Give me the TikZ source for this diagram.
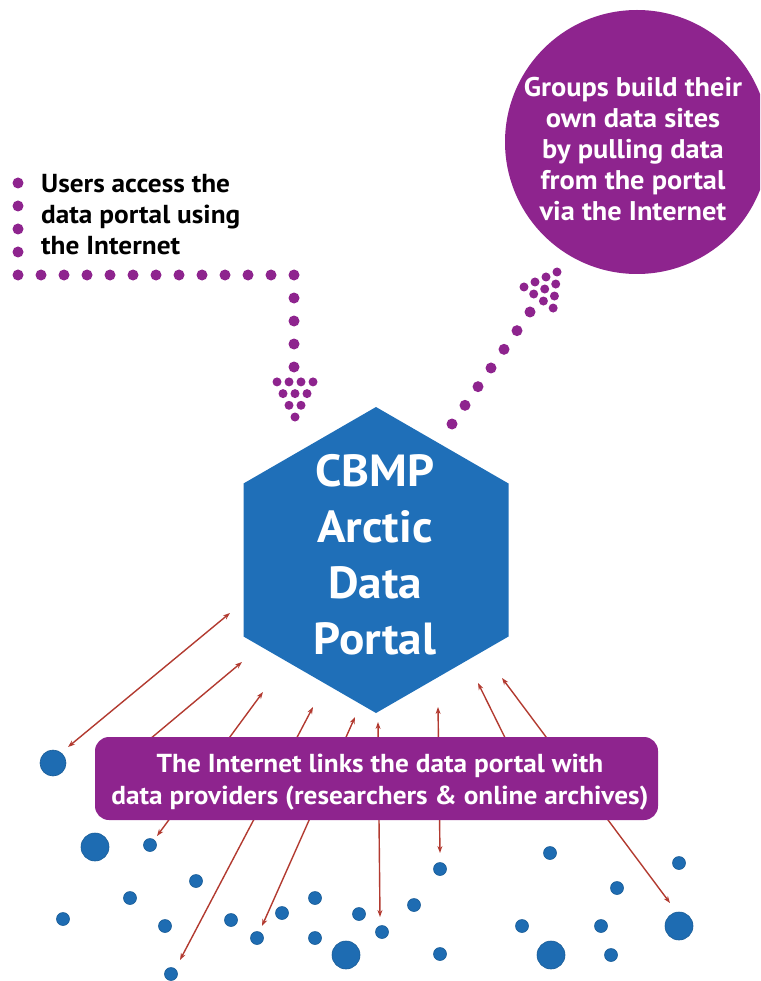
\documentclass[tikz,border=0pt]{standalone}
\usepackage{fontspec}
\setmainfont{PT Sans}[FakeStretch=1.05]
\usetikzlibrary{arrows.meta}
\definecolor{hexblue}{RGB}{31,111,184}
\definecolor{dotblue}{RGB}{30,108,178}
\definecolor{purp}{RGB}{142,36,142}
\definecolor{arrred}{RGB}{178,58,48}
\begin{document}
\begin{tikzpicture}[x=1pt,y=-1pt,
  bdot/.style={circle,fill=dotblue,draw=dotblue!85!black,line width=0.6pt,inner sep=0pt},
  link/.style={draw=arrred,line width=1.4pt,{Stealth[length=7pt,width=5pt]}-{Stealth[length=7pt,width=5pt]}},
  whitetext/.style={text=white,font=\bfseries,align=center,inner sep=0pt},
]
\useasboundingbox (0,0) rectangle (760,981);
\begin{scope}
\clip (0,0) rectangle (760,981);
% purple circle
\node[circle,fill=purp,minimum size=264pt,inner sep=0pt] (groups) at (637,142) {};
\end{scope}
\node[whitetext,anchor=north,font=\bfseries\fontsize{27}{31}\selectfont] (groupstext) at (633,77)
  {Groups build their\\own data sites\\by pulling data\\from the portal\\via the Internet};

% users text
\node[anchor=north west,align=left,inner sep=0pt,font=\bfseries\fontsize{26}{31}\selectfont] (users) at (41,174)
  {Users access the\\data portal using\\the Internet};

% dotted path from users
\foreach \y in {183,206,229,252} \fill[purp] (18,\y) circle[radius=5.5pt];
\foreach \k in {0,...,12} \fill[purp] ({18+23*\k},275) circle[radius=5.5pt];
\foreach \y in {298,321,344,367} \fill[purp] (294,\y) circle[radius=5.5pt];
\foreach \k in {0,...,3} \foreach \j in {0,...,\k}
  \fill[purp] ({295+12*(\j-\k/2)},{417-11.7*\k}) circle[radius=4.5pt];

% diagonal dotted path
\foreach \i in {0,...,6} \fill[purp] ({452+13*\i},{424-18.67*\i}) circle[radius=5.5pt];
\foreach \k in {0,...,3} \foreach \j in {0,...,\k}
  \fill[purp] ({557-10.5*\k*0.585+12*(\j-\k/2)*0.81},{272+10.5*\k*0.81+12*(\j-\k/2)*0.585}) circle[radius=4.5pt];

% hexagon
\fill[hexblue] (376,407) -- (508.5,483.5) -- (508.5,636.5) -- (376,713) -- (243.5,636.5) -- (243.5,483.5) -- cycle;
\node[whitetext,anchor=north,font=\bfseries\fontsize{45}{56}\selectfont] (portal) at (375,454)
  {CBMP\\Arctic\\Data\\Portal};

% blue circles
\foreach \n/\x/\y/\d in {1/53/763/26, 2/95/847/28, 3/150/845/13, 4/196/881/13, 5/130/898/13,
  6/63/919/13, 7/165/926/13, 8/231/920/13, 9/282/913/13, 10/315/898/13, 11/257/938/13,
  12/315/938/13, 13/359/914/13, 14/346/955/28, 15/171/974/13, 16/382/932/13, 17/414/905/13,
  18/440/869/13, 19/440/954/13, 20/550/853/13, 21/522/926/13, 22/551/955/28, 23/617/888/13,
  24/679/863/13, 25/601/926/13, 26/611/955/13, 27/679/926/28}
  \node[bdot,minimum size=\d pt] (p\n) at (\x,\y) {};

% connector end points
\coordinate (a1t) at (230,613); \coordinate (a1b) at (68,747);
\coordinate (a2t) at (242,662); \coordinate (a2b) at (125,760);
\coordinate (a3t) at (263,692); \coordinate (a3b) at (157,836);
\coordinate (a4t) at (313,707); \coordinate (a4b) at (180,960);
\coordinate (a5t) at (355,717); \coordinate (a5b) at (262,926);
\coordinate (a6t) at (378,722); \coordinate (a6b) at (380,917);
\coordinate (a7t) at (438,707); \coordinate (a7b) at (440,853);
\coordinate (a8t) at (478,683); \coordinate (a8b) at (516,760);
\coordinate (a9t) at (502,678); \coordinate (a9b) at (670,903);
\foreach \i in {1,...,9} \draw[link] (a\i t) -- (a\i b);

% banner
\node[fill=purp,rounded corners=14pt,minimum width=563pt,minimum height=83pt,inner sep=0pt] (banner) at (376.5,778.5) {};
\node[whitetext,anchor=north,font=\bfseries\fontsize{26}{32}\selectfont] (bannertext) at (380,754)
  {The Internet links the data portal with\\data providers (researchers \& online archives)};
\end{tikzpicture}
\end{document}
